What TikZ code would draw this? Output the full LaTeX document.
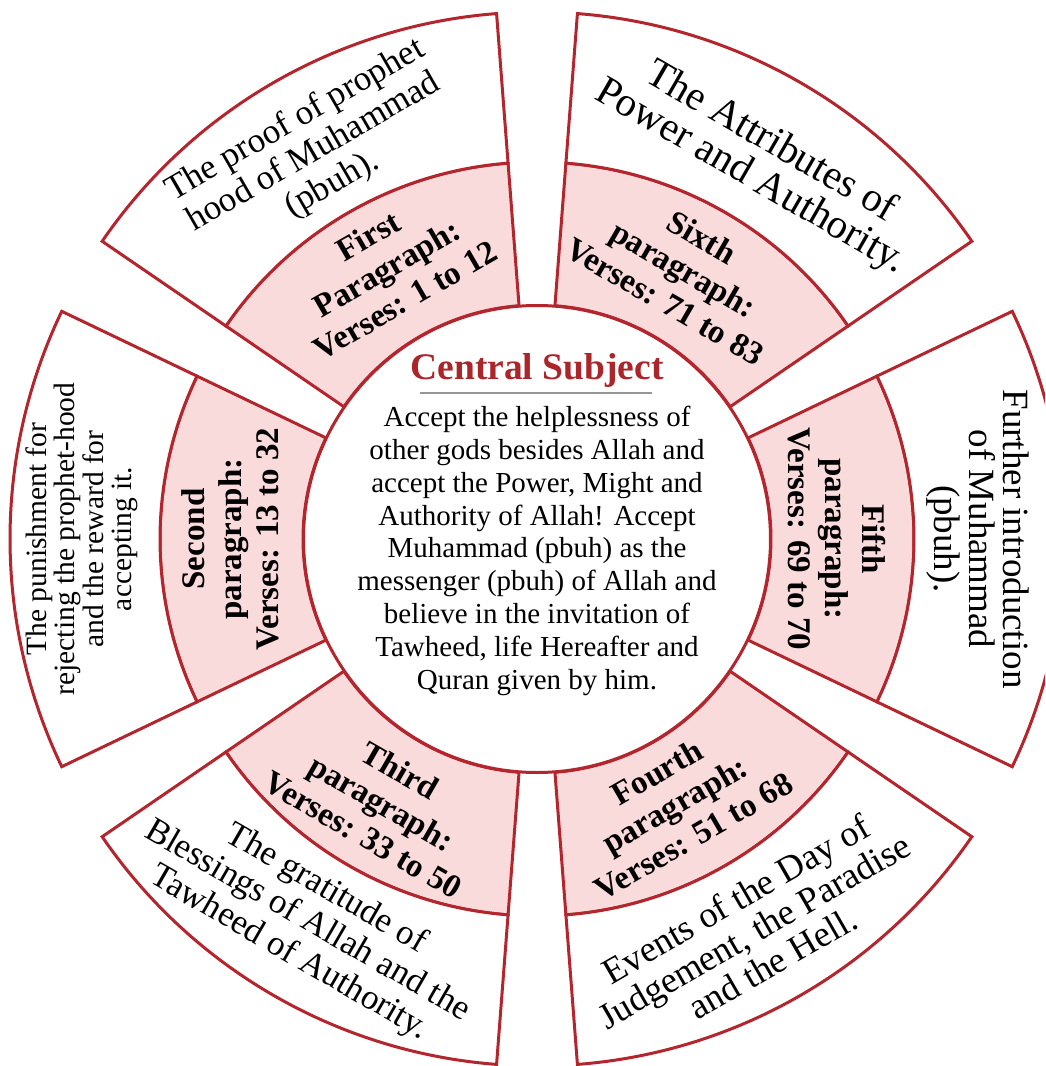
\documentclass[tikz,border=0pt]{standalone}
\usepackage{fontspec}
\setmainfont{Liberation Serif}
\definecolor{edgered}{RGB}{180,38,46}
\definecolor{pinkfill}{RGB}{250,219,220}
\definecolor{titlered}{RGB}{170,38,42}
\definecolor{rulegray}{RGB}{150,150,150}
\begin{document}
\begin{tikzpicture}[x=1pt,y=1pt,
  wedge/.style={draw=edgered, line width=3pt, line join=miter},
  innerwedge/.style={wedge, fill=pinkfill},
  outerwedge/.style={wedge, fill=white},
  ptxt/.style={align=center, inner sep=0pt, font=\fontsize{33}{37}\selectfont\bfseries},
  otxt/.style={align=center, inner sep=0pt, font=\fontsize{35}{37}\selectfont},
  stxt/.style={align=center, inner sep=0pt, font=\fontsize{29.5}{28.5}\selectfont},
  ctxt/.style={align=center, inner sep=0pt, font=\fontsize{29}{32.8}\selectfont},
]
\useasboundingbox (-537,-527) rectangle (508,539);
\begin{scope}
\clip (-537,-527) rectangle (508,539);
\foreach \m in {0,60,120,180,240,300}{
  \pgfmathsetmacro\a{\m-25.6}
  \pgfmathsetmacro\b{\m+25.6}
  \draw[innerwedge] (\a:234) arc[start angle=\a,end angle=\b,radius=234] -- (\b:377) arc[start angle=\b,end angle=\a,radius=377] -- cycle;
  \draw[outerwedge] (\a:377) arc[start angle=\a,end angle=\b,radius=377] -- (\b:527) arc[start angle=\b,end angle=\a,radius=527] -- cycle;
}
\end{scope}
\node[circle, draw=edgered, line width=3pt, fill=white, minimum size=467pt, inner sep=0pt] (core) at (0,0) {};
\node[anchor=base, font=\fontsize{37.5}{37.5}\selectfont\bfseries, text=titlered, inner sep=0pt] (title) at (0,159) {Central Subject};
\draw[rulegray, line width=2pt] ([xshift=10pt,yshift=-13pt]title.base west) -- ([xshift=-12pt,yshift=-13pt]title.base east);
\node[ctxt, anchor=north] (body) at (0,133) {Accept the helplessness of\\other gods besides Allah and\\accept the Power, Might and\\Authority of Allah! Accept\\Muhammad (pbuh) as the\\messenger (pbuh) of Allah and\\believe in the invitation of\\Tawheed, life Hereafter and\\Quran given by him.};
\node[ptxt, rotate=30] (p1) at (119:310) {First\\Paragraph:\\Verses: 1 to 12};
\node[ptxt, rotate=90] (p2) at (180:307) {Second\\paragraph:\\Verses: 13 to 32};
\node[ptxt, rotate=-30] (p3) at (239.5:306) {Third\\paragraph:\\Verses: 33 to 50};
\node[ptxt, rotate=30] (p4) at (297.5:299) {Fourth\\paragraph:\\Verses: 51 to 68};
\node[ptxt, rotate=-90] (p5) at (0:300) {Fifth\\paragraph:\\Verses: 69 to 70};
\node[ptxt, rotate=-30] (p6) at (61.5:307) {Sixth\\paragraph:\\Verses: 71 to 83};
\node[otxt, rotate=30] (o1) at (120:446) {The proof of prophet\\hood of Muhammad\\(pbuh).};
\node[stxt, rotate=90] (o2) at (180:455) {The punishment for\\rejecting the prophet-hood\\and the reward for\\accepting it.};
\node[otxt, rotate=-30] (o3) at (239:446) {The gratitude of\\Blessings of Allah and the\\Tawheed of Authority.};
\node[otxt, rotate=30, font=\fontsize{36.5}{37}\selectfont] (o4) at (299:448) {Events of the Day of\\Judgement, the Paradise\\and the Hell.};
\node[otxt, rotate=-90, font=\fontsize{37}{34.5}\selectfont] (o5) at (0:441) {Further introduction\\of Muhammad\\(pbuh).};
\node[otxt, rotate=-30, font=\fontsize{41}{40}\selectfont] (o6) at (59.5:440) {The Attributes of\\Power and Authority.};
\end{tikzpicture}
\end{document}
